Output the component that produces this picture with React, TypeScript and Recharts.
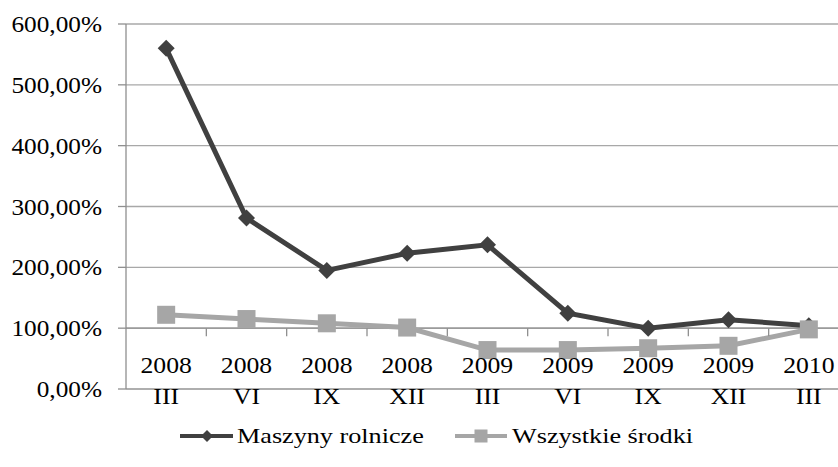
import React from 'react';
import { LineChart, Line, XAxis, YAxis, CartesianGrid, Legend, ReferenceLine, ReferenceDot } from 'recharts';

const years = ['2008', '2008', '2008', '2008', '2009', '2009', '2009', '2009', '2010'];
const months = ['III', 'VI', 'IX', 'XII', 'III', 'VI', 'IX', 'XII', 'III'];
const maszyny = [560, 281, 195, 223, 237, 124.5, 100, 114, 104];
const wszystkie = [122, 115, 108, 101, 64, 64, 67, 71, 98];
const yTicks = [0, 100, 200, 300, 400, 500, 600];
const seriesNames = ['Maszyny rolnicze', 'Wszystkie środki'];

const data = years.map((y, i) => ({ idx: i, maszyny: maszyny[i], wszystkie: wszystkie[i] }));
const xTicks = years.map((_, i) => i);
const boundaries = years.slice(1).map((_, i) => i + 0.5);

const FONT = '"Liberation Serif", "Times New Roman", serif';
const DARK = '#404040';
const LIGHT = '#a6a6a6';
const GRID = '#a8a8a8';
const AXIS = '#8f8f8f';

const fmt = (v: number) => v.toFixed(2).replace('.', ',') + '%';

const YTick = (props: any) => {
  const { x, y, payload } = props;
  return (
    <g transform={`translate(${x},${y}) scale(1.1,1)`}>
      <text x={0} y={8} textAnchor="end" fontFamily={FONT} fontSize={23} fill="#000">
        {fmt(payload.value)}
      </text>
    </g>
  );
};

const XTick = (props: any) => {
  const { x, y, payload } = props;
  const i = payload.value;
  return (
    <g transform={`translate(${x},${y}) scale(1.07,1)`}>
      <text textAnchor="middle" fontFamily={FONT} fontSize={24} fill="#000">
        <tspan x={0} y={-15.7}>{years[i]}</tspan>
        <tspan x={0} y={15}>{months[i]}</tspan>
      </text>
    </g>
  );
};

const Diamond = (props: any) => {
  const { cx, cy, index } = props;
  if (cx == null || cy == null) return null;
  const r = 8.5;
  return (
    <path
      key={`dm-${index}`}
      d={`M${cx},${cy - r} L${cx + r},${cy} L${cx},${cy + r} L${cx - r},${cy} Z`}
      fill={DARK}
    />
  );
};

const Square = (props: any) => {
  const { cx, cy, index } = props;
  if (cx == null || cy == null) return null;
  const s = 18;
  return <rect key={`sq-${index}`} x={cx - s / 2} y={cy - s / 2} width={s} height={s} fill={LIGHT} />;
};

const LegendContent = () => (
  <svg width={838} height={50} style={{ display: 'block' }}>
    <line x1={180} y1={19} x2={233} y2={19} stroke={DARK} strokeWidth={4} />
    <path d="M207,13 L213,19 L207,25 L201,19 Z" fill={DARK} />
    <g transform="translate(237,26.3) scale(1.19,1)">
      <text x={0} y={0} fontFamily={FONT} fontSize={22} fill="#000">{seriesNames[0]}</text>
    </g>
    <line x1={455} y1={19} x2={507} y2={19} stroke={LIGHT} strokeWidth={4} />
    <rect x={474.5} y={12.5} width={13} height={13} fill={LIGHT} />
    <g transform="translate(512,26.3) scale(1.19,1)">
      <text x={0} y={0} fontFamily={FONT} fontSize={22} fill="#000">{seriesNames[1]}</text>
    </g>
  </svg>
);

export default function App() {
  return (
    <div style={{ position: 'absolute', left: 0, top: 0, width: 838, height: 467, overflow: 'hidden', background: '#fff' }}>
      <LineChart width={870} height={467} data={data} margin={{ top: 24, right: 21, left: 0, bottom: 0 }}>
        <CartesianGrid horizontal vertical={false} stroke={GRID} strokeWidth={1.3} />
        <XAxis
          type="number"
          dataKey="idx"
          domain={[-0.5, 8.5]}
          allowDataOverflow
          ticks={xTicks}
          interval={0}
          tickSize={0}
          tickMargin={0}
          tickLine={false}
          height={28}
          axisLine={{ stroke: GRID, strokeWidth: 1.3 }}
          tick={<XTick />}
        />
        <YAxis
          width={126}
          domain={[0, 600]}
          ticks={yTicks}
          interval={0}
          tickSize={8}
          tickMargin={16}
          axisLine={{ stroke: AXIS, strokeWidth: 1.3 }}
          tickLine={{ stroke: AXIS, strokeWidth: 1.3 }}
          tick={<YTick />}
        />
        <ReferenceLine y={100} stroke={AXIS} strokeWidth={1.3} />
        {boundaries.map((b) => (
          <ReferenceDot
            key={`tk-${b}`}
            x={b}
            y={100}
            shape={(p: any) => (
              <line x1={p.cx} y1={p.cy} x2={p.cx} y2={p.cy + 8} stroke={AXIS} strokeWidth={1.3} />
            )}
          />
        ))}
        <Line
          dataKey="maszyny"
          name={seriesNames[0]}
          stroke={DARK}
          strokeWidth={5}
          dot={<Diamond />}
          activeDot={false}
          isAnimationActive={false}
        />
        <Line
          dataKey="wszystkie"
          name={seriesNames[1]}
          stroke={LIGHT}
          strokeWidth={5}
          dot={<Square />}
          activeDot={false}
          isAnimationActive={false}
        />
        <Legend
          verticalAlign="bottom"
          height={50}
          content={<LegendContent />}
          wrapperStyle={{ left: 0, width: 838, height: 50 }}
        />
      </LineChart>
    </div>
  );
}
